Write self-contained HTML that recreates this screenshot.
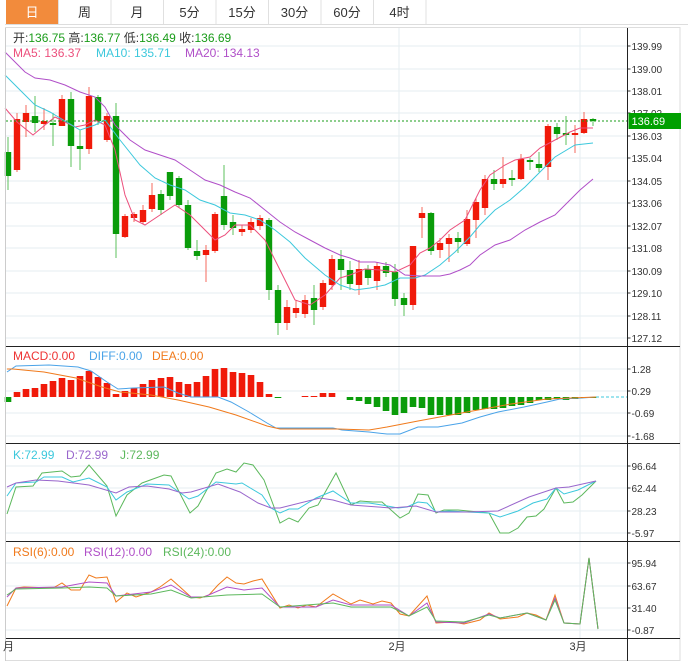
<!DOCTYPE html>
<html><head><meta charset="utf-8"><style>
body{margin:0;background:#fff;width:688px;height:671px;overflow:hidden;font-family:"Liberation Sans","Noto Sans CJK SC",sans-serif}
svg{position:absolute;left:0;top:0}
</style></head><body>
<svg id="s" width="688" height="671" xmlns="http://www.w3.org/2000/svg" font-family="Liberation Sans, Noto Sans CJK SC, sans-serif"></svg>
<script>
const s=document.getElementById('s');let h='';
const R='#f01a0a',G='#0a9c0a';
const AX=627.5,RE=680;
h+='<rect x="0" y="0" width="688" height="24" fill="#fff"/><line x1="5" y1="24.5" x2="688" y2="24.5" stroke="#ddd"/>';
const tabs=['日','周','月','5分','15分','30分','60分','4时'];
tabs.forEach((t,i)=>{const x=6+i*52.5;
 if(i==0)h+=`<rect x="${x}" y="0" width="52" height="24" fill="#f28b3c"/>`;
 h+=`<line x1="${x+52.5}" y1="0" x2="${x+52.5}" y2="24" stroke="#e0e0e0"/>`;
 h+=`<text x="${x+26}" y="17" font-size="13" text-anchor="middle" fill="${i==0?'#fff':'#333'}">${t}</text>`;});
h+=`<rect x="5.5" y="27.5" width="${RE-5.5}" height="633" fill="none" stroke="#ddd"/>`;
const pl=[['139.99',46],['139.00',69],['138.01',91],['137.02',113],['136.03',136],['135.04',158],['134.05',181],['133.06',203],['132.07',226],['131.08',248],['130.09',271],['129.10',293],['128.11',316],['127.12',338]];
function grid(arr){arr.forEach(([t,y])=>{h+=`<line x1="6" y1="${y}" x2="${AX}" y2="${y}" stroke="#e6edf1"/><line x1="${AX}" y1="${y}" x2="${AX+3}" y2="${y}" stroke="#333"/><text x="${AX+4}" y="${y+4}" font-size="10" fill="#333">${t}</text>`;});}
grid(pl);
grid([['1.28',369],['0.29',391],['-0.69',413],['-1.68',436]]);
grid([['96.64',466],['62.44',488],['28.23',511],['-5.97',533]]);
grid([['95.94',563],['63.67',586],['31.40',608],['-0.87',630]]);
[399,580].forEach(x=>h+=`<line x1="${x}" y1="28" x2="${x}" y2="638" stroke="#e6edf1"/>`);
const C=[['g',152,176,137,190],['r',119,170,113,172],['r',113,122,105,137],['g',116,123,96,132],['r',121,124,108,130],['g',123,124,113,146],['r',99,126,95,126],['g',99,146,92,167],['g',146,149,130,170],['r',96,149,87,154],['g',97,121,95,125],['r',116,140,113,142],['g',116,234,103,258],['r',216,237,214,238],['r',214,218,212,222],['r',210,222,205,224],['r',195,209,183,212],['g',194,210,190,215],['g',172,196,172,200],['g',178,205,176,208],['g',205,248,200,250],['g',251,256,240,260],['r',250,255,245,282],['r',214,251,212,253],['g',196,225,165,230],['g',222,228,215,235],['r',229,232,225,236],['r',222,230,218,233],['r',218,226,215,230],['g',220,290,218,300],['g',290,323,285,335],['r',307,323,300,330],['r',308,313,300,318],['r',300,314,295,318],['g',298,310,285,325],['r',283,307,280,310],['r',259,285,255,290],['g',259,270,250,290],
['g',270,284,261,290],['r',269,285,260,295],['g',269,278,265,285],['r',266,281,262,290],['g',266,273,262,277],['g',272,299,264,306],['g',298,305,293,316],['r',246,305,246,310],['r',213,218,207,238],['g',213,251,212,255],['r',243,250,238,258],['r',238,244,234,262],['g',238,242,232,253],['r',219,244,210,246],['r',202,220,198,238],['r',179,208,175,215],['g',179,184,170,190],['r',179,184,157,188],['g',178,179,170,186],['r',159,179,154,180],['g',160,162,158,170],['g',164,168,152,172],['r',126,167,124,180],['g',127,134,123,140],['g',133,134,116,145],['r',133,135,125,153],['r',119,133,112,134],['g',119,121,118,126]];
const X=i=>8+9.0*i;
C.forEach((c,i)=>{const x=X(i),col=c[0]=='r'?R:G,w=c[0]=='r'?'#f46a5c':'#5cc25c';
 h+=`<line x1="${x}" y1="${c[3]}" x2="${x}" y2="${c[4]}" stroke="${w}"/>`;
 h+=`<rect x="${x-3.2}" y="${c[1]}" width="6.4" height="${Math.max(2,c[2]-c[1])}" fill="${col}"/>`;});
function pl2(pts,col,w=1){h+=`<polyline fill="none" stroke="${col}" stroke-width="${w}" points="${pts.map(p=>p.join(',')).join(' ')}"/>`;}
pl2([[5,108],[17,122],[33,135],[45,125],[55,117],[65,122],[75,127],[85,125],[95,120],[105,125],[115,150],[125,195],[135,220],[145,225],[160,215],[175,205],[190,215],[200,225],[215,240],[225,235],[235,225],[250,225],[265,240],[280,270],[295,300],[310,305],[325,295],[340,278],[350,275],[365,269],[380,270],[395,272],[410,265],[420,253],[430,248],[440,240],[450,230],[465,220],[480,190],[490,175],[505,165],[515,160],[530,157],[540,148],[555,140],[570,132],[580,128],[593,128]],'#ec4f7c');
pl2([[5,75],[20,90],[35,105],[50,112],[60,118],[80,130],[95,125],[105,120],[120,140],[140,165],[155,178],[170,185],[185,190],[200,200],[215,205],[230,213],[245,215],[260,220],[275,230],[290,242],[305,258],[325,275],[340,285],[355,290],[370,288],[385,285],[400,278],[415,278],[425,275],[440,265],[455,252],[470,237],[480,225],[495,210],[510,200],[525,187],[540,172],[555,157],[575,145],[593,143]],'#3cc8dc');
pl2([[5,52],[25,72],[35,78],[50,80],[65,85],[80,92],[95,97],[105,107],[115,125],[130,140],[145,150],[160,155],[175,160],[190,170],[205,180],[220,185],[235,192],[250,198],[265,210],[280,222],[295,232],[310,240],[325,248],[340,255],[350,258],[360,262],[375,262],[390,265],[405,275],[420,276],[440,276],[450,274],[460,270],[470,265],[480,255],[495,245],[510,240],[525,230],[540,222],[555,215],[570,200],[580,190],[593,179]],'#b04fc8');
h+=`<line x1="6" y1="121" x2="${AX}" y2="121" stroke="#1a9c1a" stroke-dasharray="2,2"/>`;
h+=`<rect x="${AX+1}" y="113" width="${RE-AX}" height="16" fill="#00a000"/><text x="${AX+4}" y="125" font-size="11" fill="#fff">136.69</text>`;
h+='<text x="13" y="42" font-size="12" fill="#333">开:<tspan fill="#1a9c1a">136.75</tspan>  高:<tspan fill="#1a9c1a">136.77</tspan>  低:<tspan fill="#1a9c1a">136.49</tspan>  收:<tspan fill="#1a9c1a">136.69</tspan></text>';
h+='<text x="13" y="57" font-size="12" fill="#ec4f7c">MA5: 136.37</text><text x="96" y="57" font-size="12" fill="#3cc8dc">MA10: 135.71</text><text x="185" y="57" font-size="12" fill="#b04fc8">MA20: 134.13</text>';
const M=[402,392,389,388,384,381,378,380,376,371,377,383,394,391,388,384,380,378,377,382,384,382,376,369,368,372,373,375,382,394,398,397,397,396,396,393,393,397,400,401,404,407,411,415,413,407,408,415,415,415,415,413,410,409,409,408,406,405,403,400,400,399,400,399,398,398];
const B=397;
M.forEach((v,i)=>{const x=X(i);if(Math.abs(v-B)<0.6)return;h+=`<rect x="${x-3.3}" y="${Math.min(v,B)}" width="6.6" height="${Math.abs(v-B)}" fill="${v<B?R:G}"/>`;});
h+=`<line x1="596" y1="397" x2="${AX}" y2="397" stroke="#3cc8dc" stroke-dasharray="3,2"/>`;
pl2([[7,372],[16,366],[49,365],[78,367],[91,371],[107,382],[118,389],[133,388],[164,387],[178,393],[191,397],[218,397],[231,402],[249,412],[267,423],[276,428],[311,428],[333,428],[342,430],[369,432],[387,434],[400,434],[418,427],[438,427],[462,423],[480,417],[498,412],[524,407],[547,402],[560,399],[582,398],[596,397]],'#4aa3e8');
pl2([[7,369],[13,369],[44,372],[76,378],[102,387],[120,392],[151,395],[178,400],[209,407],[236,415],[267,426],[280,429],[338,429],[369,430],[387,427],[418,421],[467,412],[511,404],[547,399],[596,397]],'#f07a1c');
h+='<text x="13" y="360" font-size="12" fill="#ee3333">MACD:0.00</text><text x="89" y="360" font-size="12" fill="#4aa3e8">DIFF:0.00</text><text x="152" y="360" font-size="12" fill="#f07a1c">DEA:0.00</text>';
pl2([[7,514],[16,487],[33,486],[42,473],[62,471],[71,477],[80,476],[89,465],[107,486],[116,516],[127,495],[142,483],[164,475],[171,476],[190,513],[198,506],[216,473],[227,469],[236,472],[244,463],[253,465],[264,480],[280,523],[289,518],[298,522],[309,508],[318,505],[336,473],[351,505],[360,501],[373,502],[382,502],[400,518],[409,513],[418,494],[428,495],[436,513],[444,510],[458,510],[489,513],[500,533],[509,533],[518,528],[527,517],[536,516],[544,509],[556,488],[564,503],[573,502],[582,495],[596,481]],'#5cb85c');
pl2([[7,496],[16,483],[36,482],[44,477],[62,477],[73,482],[89,478],[107,487],[116,500],[127,492],[147,484],[169,485],[189,499],[198,496],[216,482],[236,484],[242,483],[262,495],[271,508],[280,513],[289,509],[298,509],[316,498],[333,491],[351,503],[369,503],[382,505],[398,508],[407,507],[418,502],[427,503],[436,512],[449,511],[467,512],[489,513],[500,517],[518,511],[533,503],[547,499],[556,488],[564,494],[578,490],[596,481]],'#3cc8dc');
pl2([[7,487],[16,483],[36,480],[58,481],[89,485],[116,493],[129,487],[147,486],[169,489],[182,493],[191,492],[218,484],[240,492],[258,503],[271,508],[280,508],[320,498],[333,500],[351,505],[378,507],[391,508],[416,506],[436,512],[467,512],[498,511],[529,497],[556,488],[569,487],[596,481]],'#9966cc');
h+='<text x="13" y="459" font-size="12" fill="#3cc8dc">K:72.99</text><text x="66" y="459" font-size="12" fill="#9966cc">D:72.99</text><text x="120" y="459" font-size="12" fill="#5cb85c">J:72.99</text>';
pl2([[7,606],[16,588],[24,587],[53,588],[62,583],[71,590],[80,590],[89,575],[96,578],[107,577],[116,602],[127,593],[136,597],[151,592],[160,587],[171,579],[180,587],[191,597],[200,598],[209,595],[218,585],[227,577],[236,583],[244,584],[253,581],[262,579],[280,608],[289,605],[298,608],[307,605],[316,607],[333,594],[351,604],[360,600],[373,604],[382,601],[391,603],[400,614],[409,616],[427,596],[436,623],[453,622],[464,624],[480,620],[489,613],[500,619],[518,617],[527,613],[536,615],[546,620],[555,595],[564,623],[580,624],[589,558],[598,629]],'#f07a1c');
pl2([[7,597],[16,588],[62,587],[89,582],[107,583],[116,596],[151,592],[171,585],[191,597],[204,597],[227,587],[244,590],[262,588],[280,607],[316,607],[333,600],[351,605],[391,605],[409,616],[427,603],[436,622],[464,623],[489,614],[500,618],[527,613],[546,620],[555,598],[564,623],[580,624],[589,558],[598,629]],'#b04fc8');
pl2([[7,595],[16,589],[62,588],[89,587],[107,588],[116,596],[151,594],[171,590],[191,598],[227,595],[262,594],[280,607],[333,603],[351,607],[391,607],[409,616],[427,607],[436,621],[464,622],[489,615],[500,618],[527,613],[546,620],[555,600],[564,623],[580,624],[589,558],[598,629]],'#5cb85c');
h+='<text x="13" y="556" font-size="12" fill="#f07a1c">RSI(6):0.00</text><text x="84" y="556" font-size="12" fill="#b04fc8">RSI(12):0.00</text><text x="163" y="556" font-size="12" fill="#5cb85c">RSI(24):0.00</text>';
[346.5,443.5,541.5,638.5].forEach(y=>h+=`<line x1="5" y1="${y}" x2="${RE}" y2="${y}" stroke="#222"/>`);
h+=`<line x1="${AX}" y1="28" x2="${AX}" y2="661" stroke="#222"/>`;
h+='<line x1="5.5" y1="28" x2="5.5" y2="661" stroke="#ccc"/>';
h+='<text x="3" y="650" font-size="11" fill="#333">月</text><text x="397" y="650" font-size="11" fill="#333" text-anchor="middle">2月</text><text x="578" y="650" font-size="11" fill="#333" text-anchor="middle">3月</text>';
s.innerHTML=h;
</script>
</body></html>
